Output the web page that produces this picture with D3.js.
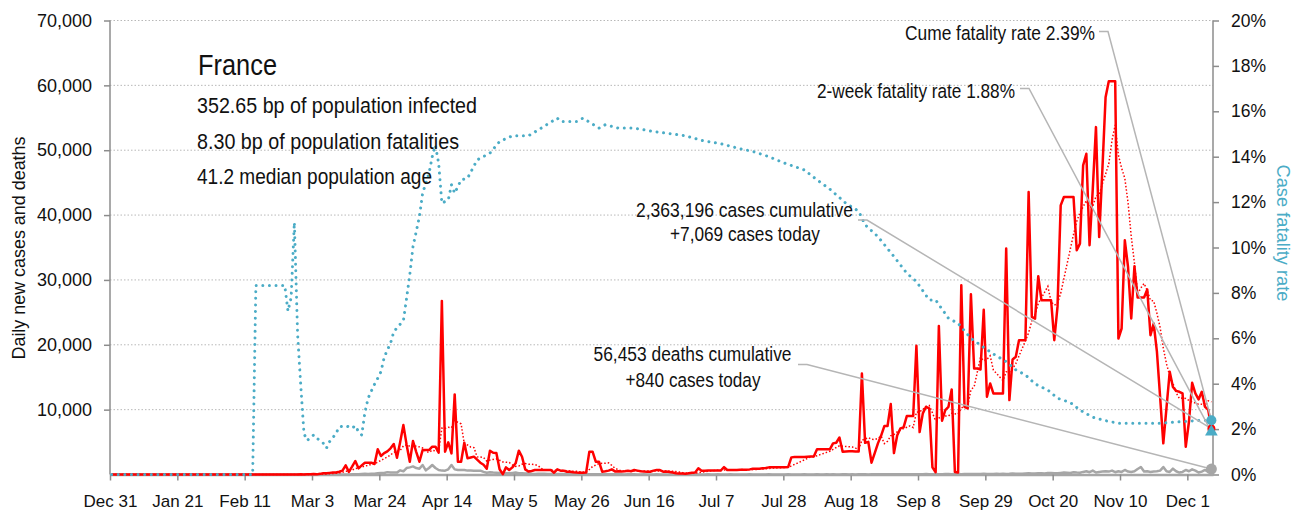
<!DOCTYPE html>
<html>
<head>
<meta charset="utf-8">
<script src="https://cdn.jsdelivr.net/npm/d3@7"></script>
<style>
  body { margin: 0; background: #fff; }
  text { font-family: "Liberation Sans", Arial, sans-serif; fill: #111; }
  .narrow { font-family: "Liberation Sans Narrow", "Liberation Sans", Arial, sans-serif; }
</style>
</head>
<body>
<svg id="chart" width="1314" height="513"></svg>
<script>
// day 0 = Dec 31 2019, one value per day up to Dec 8 2020
var dailyCases = [
  0,
  // Jan
  0,0,0,0,0,0,0,0,0,0,0,0,0,0,0,0,0,0,0,0,0,0,0,0,3,0,0,0,1,0,1,
  // Feb
  0,0,0,0,0,0,0,0,5,0,0,0,0,0,0,0,0,0,0,0,0,0,0,0,0,2,4,20,19,
  // Mar
  43,30,61,21,100,200,200,250,300,300,430,600,1400,400,1200,2080,950,1400,1820,1820,1820,1620,3880,2850,3300,3570,4030,4700,2590,5000,7620,
  // Apr
  4600,1970,5160,3500,1970,3770,3770,3770,4290,4290,3360,26770,3520,4960,3260,12350,1970,1970,4900,2490,2620,2750,2300,1820,1500,900,3670,3360,3300,800,
  // May
  50,1100,690,1100,1720,3670,2740,790,450,550,690,690,700,690,690,690,280,790,590,590,430,430,350,300,280,280,300,3520,3520,1980,1980,
  // Jun
  430,500,600,790,480,500,450,500,590,500,690,600,500,450,430,430,600,690,690,430,450,400,300,200,150,150,100,200,280,300,
  // Jul
  950,590,590,600,600,600,620,620,1150,690,700,700,700,720,720,750,790,900,900,900,950,1000,1100,1100,1100,1100,1100,1100,1150,2640,2690,
  // Aug
  2700,2700,2700,2750,2790,2790,3880,3880,3900,3900,3880,4800,4900,5700,3520,3560,3600,3600,3560,3560,15580,4880,5030,1820,3300,4800,6000,7470,7470,10860,3300,
  // Sep
  6000,7110,7260,9010,9010,9010,19840,6540,9420,10440,10200,1100,350,22900,8300,9930,10440,13120,400,300,29180,10440,10180,27800,16350,16350,16200,25400,11980,14040,
  // Oct
  12500,12500,12500,12500,34830,11470,17740,18150,20710,20710,20710,43550,24300,24040,30570,26870,26870,26870,26870,20710,25840,41500,42780,42780,42780,42780,34570,35600,47660,49460,35340,
  // Nov
  44000,53560,36620,47000,58180,60640,60640,60640,20970,22510,36110,32000,24050,32100,27290,27290,27290,28520,21480,23280,19000,12000,4800,10300,15830,13500,12900,12750,12500,4280,
  // Dec
  8130,14140,12500,11580,12750,10440,10000,7069
];

var dailyDeaths = [
  0,
  // Jan
  0,0,0,0,0,0,0,0,0,0,0,0,0,0,0,0,0,0,0,0,0,0,0,0,0,0,0,0,0,0,0,
  // Feb
  0,0,0,0,0,0,0,0,0,0,0,0,0,1,0,0,0,0,0,0,0,0,0,0,0,1,0,0,0,
  // Mar
  0,1,1,0,3,2,1,10,3,15,13,12,18,12,36,21,27,89,108,78,112,112,186,240,231,365,299,319,292,640,500,
  // Apr
  1000,1100,1250,1000,900,1460,640,1000,1460,1000,690,600,590,800,1460,790,700,700,690,600,600,590,590,590,400,280,350,300,280,250,
  // May
  200,200,180,250,300,200,180,150,180,100,90,120,110,100,80,70,90,80,70,60,60,80,50,40,60,50,50,40,40,30,30,
  // Jun
  30,35,25,30,20,25,20,15,20,25,20,15,15,20,15,10,15,20,15,10,10,15,10,15,20,10,10,15,10,15,
  // Jul
  15,10,15,20,10,15,20,15,10,15,20,15,10,15,10,15,20,15,10,15,10,15,20,15,10,15,10,15,20,15,10,
  // Aug
  15,10,20,15,10,15,20,15,10,20,15,20,15,10,20,25,15,20,15,20,25,20,15,25,20,30,25,20,30,25,20,
  // Sep
  30,40,25,35,45,30,50,40,35,60,45,40,70,50,45,60,80,50,60,70,55,80,60,70,90,60,80,100,70,90,
  // Oct
  60,100,80,120,90,100,150,120,130,110,150,180,140,160,200,180,150,220,250,200,180,250,300,260,230,350,300,280,400,500,350,
  // Nov
  600,300,400,450,500,450,600,350,500,400,700,450,400,500,850,1150,450,500,400,450,500,600,1150,500,400,900,500,300,400,700,
  // Dec
  500,800,600,300,450,700,400,840
];

// case fatality rate (%), read at these day numbers
var rateDays = [0,44,45,54,55,56,57,58,59,60,61,63,64,65,66,67,68,69,70,71,73,75,76,77,78,79,80,81,82,83,84,85,86,87,88,90,91,92,93,94,96,97,99,100,101,102,103,105,106,107,109,111,114,118,121,125,130,134,139,140,145,147,152,154,158,163,169,175,179,184,190,196,200,205,210,216,220,224,229,233,235,239,244,248,251,255,257,261,264,268,272,275,279,282,285,288,292,295,299,302,306,310,314,327,338,343];
var rateValues = [0,0,8.33,8.33,7.2,7.8,11.1,6.2,3.9,1.8,1.5,1.74,1.6,1.49,1.38,1.16,1.45,1.62,1.82,2.1,2.15,2.04,2.15,1.89,1.74,2.73,3.36,3.68,3.98,4.24,4.53,5.15,5.49,5.78,6.29,6.62,6.78,7.76,8.8,10.04,11.36,12.39,13.27,14.0,14.5,13.71,11.95,12.1,12.76,12.39,12.98,13.05,13.86,14.16,14.67,14.92,14.92,15.26,15.7,15.55,15.55,15.7,15.26,15.41,15.26,15.26,15.11,15.0,14.92,14.72,14.57,14.35,14.23,14.0,13.71,13.42,12.98,12.57,11.95,11.6,11.0,10.48,9.6,8.87,8.5,7.69,7.69,6.88,6.66,6.0,5.6,5.31,4.97,4.61,4.39,3.99,3.72,3.36,3.17,2.84,2.52,2.37,2.26,2.26,2.37,2.39];

var leftTicks = [10000, 20000, 30000, 40000, 50000, 60000, 70000];
var rightTicks = [0, 2, 4, 6, 8, 10, 12, 14, 16, 18, 20];
var xTicks = ["2019-12-31","2020-01-21","2020-02-11","2020-03-03","2020-03-24","2020-04-14","2020-05-05","2020-05-26","2020-06-16","2020-07-07","2020-07-28","2020-08-18","2020-09-08","2020-09-29","2020-10-20","2020-11-10","2020-12-01"];

var country = "France";
var infoLines = ["352.65 bp of population infected", "8.30 bp of population fatalities", "41.2 median population age"];
var cumeRate = 2.39;
var twoWeekRate = 1.88;
var casesLabel = ["2,363,196 cases cumulative", "+7,069 cases today"];
var deathsLabel = ["56,453 deaths cumulative", "+840 cases today"];
var lastCases = 7069;
var lastDeaths = 840;

var red = "#ff0000", cyan = "#4bacc6", grey = "#a6a6a6";

var svg = d3.select("#chart");
var parseDay = d3.timeParse("%Y-%m-%d");

var dayDate = function (d) {
  return new Date(2019, 11, 31 + d, 12);
};

var x = d3.scaleTime().domain([new Date(2019, 11, 31), new Date(2020, 11, 9)]).range([110, 1213]);
var yL = d3.scaleLinear().domain([0, 70000]).range([474.5, 20.5]);
var yR = d3.scaleLinear().domain([0, 20]).range([474.5, 20.5]);

// grid
svg.append("g").selectAll("line").data(leftTicks).enter().append("line")
  .attr("x1", 110).attr("x2", 1213)
  .attr("y1", function (v) { return yL(v); })
  .attr("y2", function (v) { return yL(v); })
  .attr("stroke", "#b8b8b8").attr("stroke-width", 1)
  .attr("stroke-dasharray", "1.5,2");

// axes
var axL = svg.append("g").attr("transform", "translate(110,0)")
  .call(d3.axisLeft(yL).tickValues(leftTicks).tickSize(6).tickSizeOuter(0).tickPadding(12).tickFormat(d3.format(",")));
var axR = svg.append("g").attr("transform", "translate(1213,0)")
  .call(d3.axisRight(yR).tickValues(rightTicks).tickSize(6).tickSizeOuter(0).tickPadding(12).tickFormat(function (v) { return v + "%"; }));
var axB = svg.append("g").attr("transform", "translate(0,474.5)")
  .call(d3.axisBottom(x).tickValues(xTicks.map(parseDay)).tickSize(6).tickSizeOuter(0).tickPadding(14).tickFormat(d3.timeFormat("%b %-d")));

[axL, axR, axB].forEach(function (ax) {
  ax.select(".domain").attr("stroke", "#8c8c8c").attr("stroke-width", 1.5);
  ax.selectAll(".tick line").attr("stroke", "#8c8c8c").attr("stroke-width", 1.5);
  ax.selectAll(".tick text").attr("font-size", 17).attr("fill", "#111");
});
axL.selectAll(".tick text").attr("font-size", 18);
axR.selectAll(".tick text").attr("font-size", 17.5);
axL.select(".domain").attr("d", "M0," + yL(70000) + "V" + yL(0));
axR.select(".domain").attr("d", "M0," + yR(20) + "V" + yR(0));
axB.select(".domain").attr("stroke", grey).attr("stroke-width", 2.5);
axR.selectAll(".tick text").attr("fill", cyan);

// series
var days = d3.range(dailyCases.length);
var avg7 = days.map(function (i) {
  return d3.mean(dailyCases.slice(Math.max(0, i - 6), i + 1));
});

var lineL = d3.line()
  .x(function (p) { return x(dayDate(p[0])); })
  .y(function (p) { return yL(p[1]); });
var lineR = d3.line()
  .x(function (p) { return x(dayDate(p[0])); })
  .y(function (p) { return yR(p[1]); });

svg.append("path")
  .attr("d", lineL(days.map(function (i) { return [i, dailyDeaths[i]]; })))
  .attr("fill", "none").attr("stroke", grey).attr("stroke-width", 2.5).attr("stroke-linejoin", "round");

svg.append("path")
  .attr("d", lineL(days.map(function (i) { return [i, avg7[i]]; })))
  .attr("fill", "none").attr("stroke", red).attr("stroke-width", 1.5)
  .attr("stroke-dasharray", "1.5,2");

svg.append("path")
  .attr("d", lineL(days.map(function (i) { return [i, dailyCases[i]]; })))
  .attr("fill", "none").attr("stroke", red).attr("stroke-width", 2.5).attr("stroke-linejoin", "round");

svg.append("path")
  .attr("d", lineR(rateDays.map(function (d, i) { return [d, rateValues[i]]; })))
  .attr("fill", "none").attr("stroke", cyan).attr("stroke-width", 3)
  .attr("stroke-linecap", "round").attr("stroke-dasharray", "0.01,6.6");

// end markers and leader lines
var lastDay = dailyCases.length - 1;
var xe = x(dayDate(lastDay));

var leaders = [
  { from: [1099, 31.5], elbow: 1108, to: yR(cumeRate) },
  { from: [1020, 88.5], elbow: 1029, to: yR(twoWeekRate) },
  { from: [858, 220], elbow: 867, to: yL(lastCases) },
  { from: [798, 364.5], elbow: 807, to: yL(lastDeaths) }
];
svg.append("g").selectAll("path").data(leaders).enter().append("path")
  .attr("d", function (l) { return "M" + l.from[0] + "," + l.from[1] + "H" + l.elbow + "L" + xe + "," + l.to; })
  .attr("fill", "none").attr("stroke", "#b5b5b5").attr("stroke-width", 1.5);

svg.append("circle").attr("cx", xe).attr("cy", yL(lastDeaths)).attr("r", 5.5).attr("fill", grey);
svg.append("circle").attr("cx", xe).attr("cy", yL(lastCases)).attr("r", 4).attr("fill", red);
svg.append("path")
  .attr("d", d3.symbol().type(d3.symbolTriangle).size(70)())
  .attr("transform", "translate(" + xe + "," + yR(twoWeekRate) + ")")
  .attr("fill", cyan);
svg.append("circle").attr("cx", xe).attr("cy", yR(cumeRate)).attr("r", 5).attr("fill", cyan);

// texts
var addText = function (str, tx, ty, size, len, anchor) {
  return svg.append("text").attr("class", "narrow")
    .attr("x", tx).attr("y", ty)
    .attr("font-size", size)
    .attr("text-anchor", anchor || "start")
    .attr("textLength", len).attr("lengthAdjust", "spacingAndGlyphs")
    .text(str);
};

addText(country, 198, 75, 30, 79);
addText(infoLines[0], 197, 112.5, 21.5, 280);
addText(infoLines[1], 197, 148.5, 21.5, 262);
addText(infoLines[2], 197, 183.5, 21.5, 235);

addText("Cume fatality rate " + cumeRate.toFixed(2) + "%", 1095, 40, 20.5, 190, "end");
addText("2-week fatality rate " + twoWeekRate.toFixed(2) + "%", 1015, 97.5, 20.5, 198, "end");
addText(casesLabel[0], 744.5, 216.5, 20.5, 217, "middle");
addText(casesLabel[1], 745, 241, 20.5, 150, "middle");
addText(deathsLabel[0], 692.5, 361, 20.5, 198, "middle");
addText(deathsLabel[1], 693, 386.5, 20.5, 135, "middle");

svg.append("text").attr("class", "narrow")
  .attr("transform", "translate(25,248) rotate(-90)")
  .attr("text-anchor", "middle").attr("font-size", 17.5)
  .attr("textLength", 223).attr("lengthAdjust", "spacingAndGlyphs")
  .text("Daily new cases and deaths");

svg.append("text").attr("class", "narrow")
  .attr("transform", "translate(1277,233) rotate(90)")
  .attr("text-anchor", "middle").attr("font-size", 17.5)
  .attr("textLength", 137).attr("lengthAdjust", "spacingAndGlyphs")
  .style("fill", cyan)
  .text("Case fatality rate");
</script>
</body>
</html>
